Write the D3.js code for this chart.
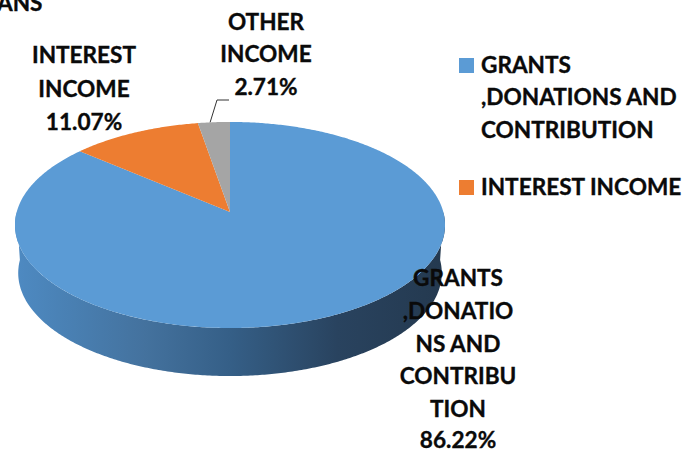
<!DOCTYPE html>
<html>
<head>
<meta charset="utf-8">
<script src="https://cdn.jsdelivr.net/npm/d3@7/dist/d3.min.js"></script>
<style>
html,body{margin:0;padding:0;background:#fff;overflow:hidden}
svg{display:block}
text{font-family:Lato,"Open Sans",sans-serif;font-weight:700;fill:#0a0a0a;stroke:#0a0a0a;stroke-width:.35px}
</style>
</head>
<body>
<svg id="chart" width="682" height="452"></svg>
<script>
const categories = ["GRANTS ,DONATIONS AND CONTRIBUTION", "INTEREST INCOME", "OTHER INCOME"];
const shares = [86.22, 11.07, 2.71];
const sliceColors = ["#5b9bd5", "#ed7d31", "#a5a5a5"];
const labelLines = [
  ["GRANTS", ",DONATIO", "NS AND", "CONTRIBU", "TION", "86.22%"],
  ["INTEREST", "INCOME", "11.07%"],
  ["OTHER", "INCOME", "2.71%"]
];
const legendLines = [
  ["GRANTS", ",DONATIONS AND", "CONTRIBUTION"],
  ["INTEREST INCOME"]
];
const wallStops = [
  [0, "#4e8ac2"], [0.1, "#4a82b6"], [0.3, "#44729e"], [0.5, "#355f87"],
  [0.75, "#29435f"], [1, "#24394f"]
];

const svg = d3.select("#chart");
const FONT = 22.6;

// Tilted disc: a unit circle seen in perspective, apex sits above the visual middle.
const disc = {cx: 230, cy: 212, rx: 213.3, ry: 101.4, k: 0.126, depth: 48, shrink: 0.985};
function project(angle, lower) {
  const u = Math.sin(angle), v = Math.cos(angle), d = 1 + disc.k * v;
  const scale = lower ? disc.shrink : 1;
  return [
    disc.cx + scale * disc.rx * u / d,
    disc.cy - disc.ry * v / d + (lower ? disc.depth : 0)
  ];
}
function samples(a0, a1) {
  const n = Math.max(2, Math.ceil(Math.abs(a1 - a0) / 0.01));
  return d3.range(n + 1).map(i => a0 + (a1 - a0) * i / n);
}
const line = d3.line();

// Slices run clockwise and end at twelve o'clock, the small grey one last.
const pie = d3.pie().value(d => d).sort(null);
const arcs = pie(shares);

const defs = svg.append("defs");
const grad = defs.append("linearGradient")
  .attr("id", "wall").attr("gradientUnits", "userSpaceOnUse")
  .attr("x1", 15).attr("x2", 445).attr("y1", 0).attr("y2", 0);
grad.selectAll("stop").data(wallStops).join("stop")
  .attr("offset", d => d[0]).attr("stop-color", d => d[1]);

// Front wall of the disc
const front = samples(Math.PI / 2, Math.PI * 1.5);
const wallPts = front.map(a => project(a, false))
  .concat(front.slice().reverse().map(a => project(a, true)));
svg.append("path").attr("d", line(wallPts) + "Z").attr("fill", "url(#wall)");

// Top face
svg.selectAll("path.slice").data(arcs).join("path")
  .attr("class", "slice")
  .attr("fill", (d, i) => sliceColors[i])
  .attr("d", d => line([[disc.cx, disc.cy]].concat(samples(d.startAngle, d.endAngle).map(a => project(a, false)))) + "Z");

// Leader for the smallest slice
const other = arcs[2];
const anchor = project((other.startAngle + other.endAngle) / 2 - 0.02, false);
svg.append("path")
  .attr("d", line([anchor, [217, 100], [229, 100]]))
  .attr("fill", "none").attr("stroke", "#333").attr("stroke-width", 1);

// Data labels
const labelPos = [
  {x: 458, y: [286, 319, 352, 384, 417, 447.5]},
  {x: 84, y: [63, 97, 130]},
  {x: 266, y: [30, 62, 95]}
];
labelLines.forEach((lines, i) => {
  svg.selectAll(null).data(lines).join("text")
    .attr("x", labelPos[i].x)
    .attr("y", (d, j) => labelPos[i].y[j])
    .attr("text-anchor", "middle")
    .attr("font-size", FONT)
    .text(d => d);
});

// Legend
const legendPos = [
  {box: 58, y: [73, 105, 138]},
  {box: 180, y: [195]}
];
legendLines.forEach((lines, i) => {
  svg.append("rect").attr("x", 459).attr("y", legendPos[i].box)
    .attr("width", 15).attr("height", 15).attr("fill", sliceColors[i]);
  svg.selectAll(null).data(lines).join("text")
    .attr("x", 481)
    .attr("y", (d, j) => legendPos[i].y[j])
    .attr("font-size", FONT)
    .text(d => d);
});

// Title remnant at the top edge
svg.append("text").attr("x", -3).attr("y", 11).attr("font-size", FONT).text("ANS");
</script>
</body>
</html>
